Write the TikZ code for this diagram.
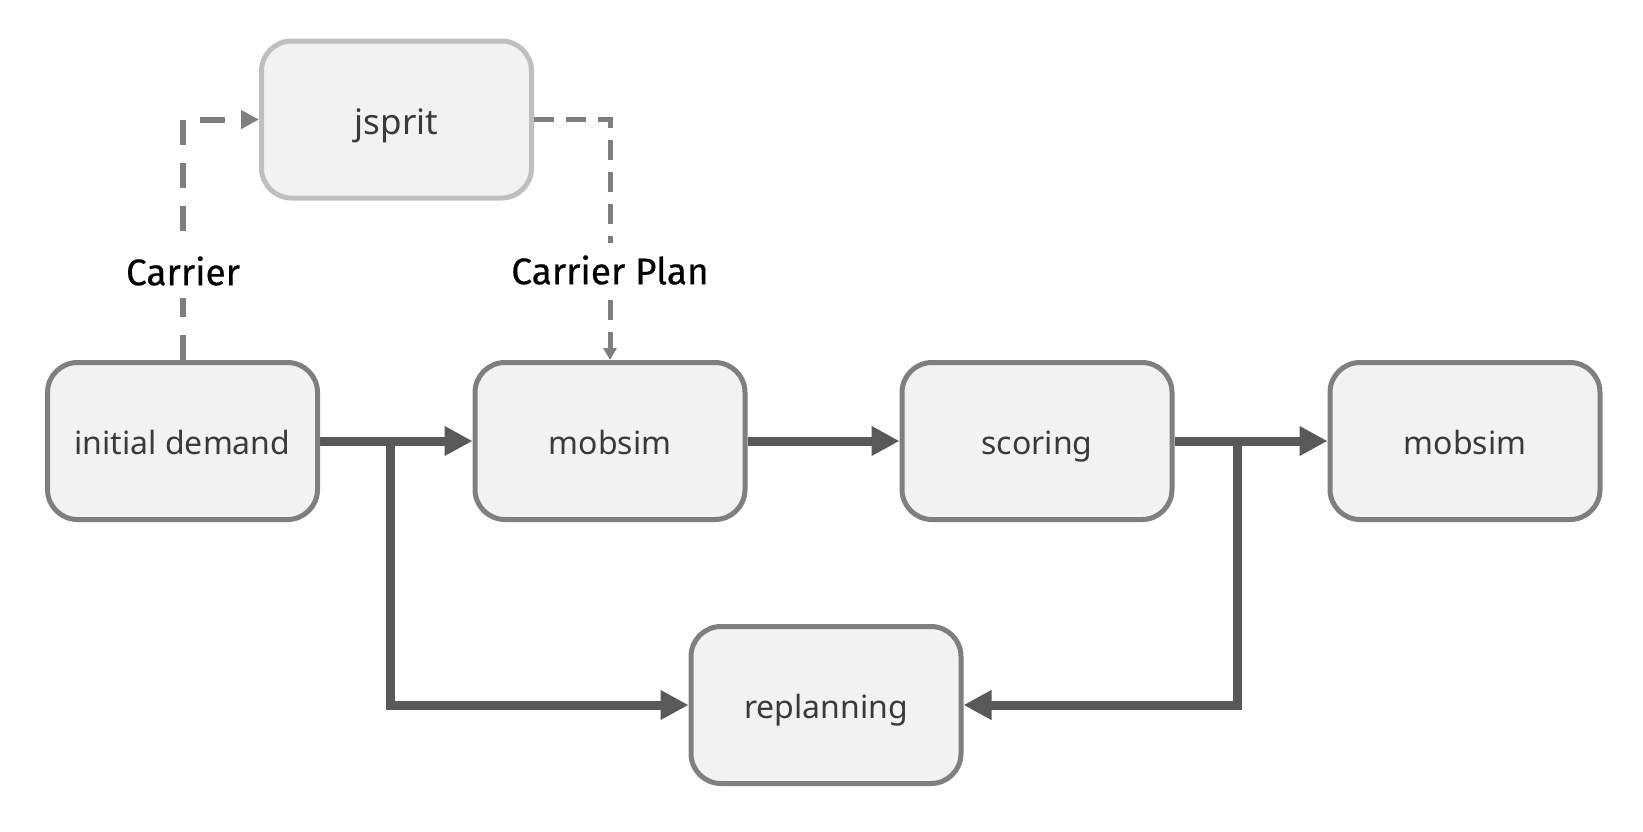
\documentclass[tikz,border=0pt]{standalone}
\usepackage{fontspec}
\setmainfont{Noto Sans}
\newfontfamily\labelfont[FakeBold=0.5]{Fira Sans}
\usetikzlibrary{arrows.meta}
\definecolor{boxfill}{HTML}{F2F2F2}
\definecolor{boxline}{HTML}{7F7F7F}
\definecolor{jspline}{HTML}{BFBFBF}
\definecolor{arrowc}{HTML}{595959}
\definecolor{dashc}{HTML}{7F7F7F}
\definecolor{txt}{HTML}{3A3A3A}
\tikzset{
  procbox/.style={draw=boxline, fill=boxfill, line width=2.5pt, rounded corners=15pt,
    minimum width=135pt, minimum height=78.5pt, inner sep=0pt,
    text height=13pt, text depth=0pt,
    font=\fontsize{16}{19}\selectfont, text=txt},
  mainarrow/.style={draw=arrowc, line width=4.5pt,
    -{Triangle[length=14pt,width=14pt]}},
  dashbig/.style={draw=dashc, line width=3pt, dash pattern=on 12.5pt off 9pt,
    -{Triangle[length=9pt,width=9pt]}},
  dashsmall/.style={draw=dashc, line width=2.5pt, dash pattern=on 10pt off 6pt,
    -{Triangle[length=6pt,width=6.5pt]}},
  lbl/.style={fill=white, inner xsep=3pt, inner ysep=6pt, font=\labelfont\fontsize{18.5}{22}\selectfont, text=black}
}
\begin{document}
\begin{tikzpicture}[x=0.5pt,y=-0.5pt]
\useasboundingbox (0,0) rectangle (1643,831);
\node[procbox] (init) at (182.5,441) {initial demand};
\node[procbox] (mob1) at (610,441) {mobsim};
\node[procbox] (score) at (1037,441) {scoring};
\node[procbox] (mob2) at (1465,441) {mobsim};
\node[procbox] (repl) at (826,705) {replanning};
\node[procbox, draw=jspline, text height=15pt, font=\fontsize{17.5}{20}\selectfont] (jsp) at (396.5,119.5) {jsprit};

\coordinate (b1) at (390,441);
\coordinate (b2) at (1237,441);

% dashed connections
\draw[dashbig] (init.north) |- (jsp.west);
\draw[dashsmall] (jsp.east) -| (mob1.north);
\node[lbl] (lc) at (183,271) {Carrier};
\node[lbl] (lcp) at (610,270) {Carrier Plan};

% main flow
\draw[mainarrow] (init.east) -- (mob1.west);
\draw[mainarrow] (mob1.east) -- (score.west);
\draw[mainarrow] (score.east) -- (mob2.west);
\draw[mainarrow] (b1) |- (repl.west);
\draw[mainarrow] (b2) |- (repl.east);
\end{tikzpicture}
\end{document}
